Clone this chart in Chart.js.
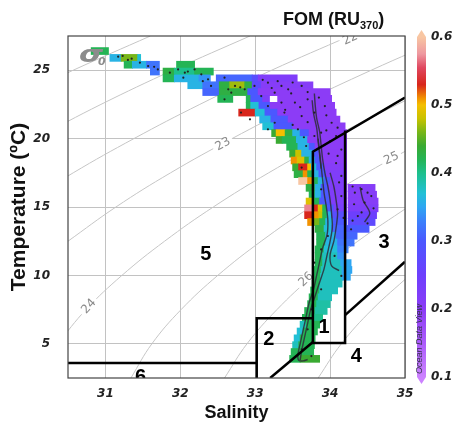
<!DOCTYPE html>
<html>
<head>
<meta charset="utf-8">
<script src="https://cdn.jsdelivr.net/npm/chart.js@4.4.1/dist/chart.umd.min.js"></script>
<style>
  html, body { margin: 0; padding: 0; background: #fff; }
</style>
</head>
<body>
<canvas id="chart" width="456" height="422"></canvas>
<script>
const xTicks = [31, 32, 33, 34, 35];
const yTicks = [5, 10, 15, 20, 25];
const barTicks = [0.1, 0.2, 0.3, 0.4, 0.5, 0.6];

// gridded FOM field, one row per 0.5 degC: [temperature, [[salinity from, to, FOM], ...]]
const fomRows = [
  [26.4, [[30.81, 31.04, 0.42]]],
  [25.9, [[31.06, 31.21, 0.36], [31.21, 31.43, 0.46], [31.43, 31.47, 0.37]]],
  [25.4, [[31.25, 31.36, 0.42], [31.36, 31.55, 0.36], [31.55, 31.72, 0.32], [31.95, 32.19, 0.42]]],
  [24.9, [[31.6, 31.72, 0.32], [31.77, 31.92, 0.43], [31.92, 32.19, 0.4], [32.19, 32.44, 0.42]]],
  [24.4, [[31.77, 31.92, 0.42], [31.92, 32.25, 0.36], [32.25, 32.4, 0.34], [32.48, 32.96, 0.31], [32.96, 33.04, 0.28], [33.04, 33.56, 0.22]]],
  [23.9, [[32.1, 32.3, 0.36], [32.3, 32.52, 0.32], [32.52, 32.66, 0.43], [32.66, 32.86, 0.47], [32.86, 32.96, 0.43], [32.96, 33.08, 0.27], [33.08, 33.77, 0.21]]],
  [23.4, [[32.3, 32.52, 0.31], [32.52, 32.9, 0.43], [32.9, 33.04, 0.3], [33.04, 34.0, 0.2]]],
  [22.9, [[32.5, 32.7, 0.42], [32.88, 32.94, 0.42], [32.94, 33.1, 0.3], [33.1, 33.19, 0.22], [33.3, 34.02, 0.2]]],
  [22.4, [[32.88, 32.94, 0.42], [32.94, 33.05, 0.37], [33.05, 33.2, 0.3], [33.2, 34.06, 0.2]]],
  [21.9, [[32.78, 33.0, 0.53], [33.0, 33.13, 0.37], [33.13, 33.3, 0.3], [33.3, 34.08, 0.2]]],
  [21.4, [[33.06, 33.21, 0.36], [33.21, 33.44, 0.3], [33.44, 34.13, 0.2]]],
  [20.9, [[33.1, 33.25, 0.37], [33.25, 33.5, 0.3], [33.5, 34.2, 0.2]]],
  [20.4, [[33.22, 33.28, 0.44], [33.28, 33.4, 0.5], [33.4, 33.5, 0.43], [33.5, 33.6, 0.36], [33.6, 33.72, 0.3], [33.72, 34.22, 0.2]]],
  [19.9, [[33.28, 33.36, 0.44], [33.36, 33.55, 0.42], [33.55, 33.7, 0.36], [33.7, 34.22, 0.2]]],
  [19.4, [[33.42, 33.57, 0.42], [33.57, 33.72, 0.36], [33.72, 33.8, 0.3], [33.8, 34.22, 0.2]]],
  [18.9, [[33.46, 33.54, 0.44], [33.54, 33.62, 0.48], [33.62, 33.77, 0.36], [33.77, 33.85, 0.3], [33.85, 34.22, 0.2]]],
  [18.4, [[33.48, 33.56, 0.51], [33.56, 33.66, 0.49], [33.66, 33.72, 0.43], [33.72, 33.8, 0.36], [33.8, 33.88, 0.3], [33.88, 34.22, 0.2]]],
  [17.9, [[33.5, 33.58, 0.44], [33.58, 33.7, 0.53], [33.7, 33.75, 0.5], [33.75, 33.82, 0.37], [33.82, 33.92, 0.3], [33.92, 34.22, 0.21]]],
  [17.4, [[33.52, 33.64, 0.43], [33.64, 33.7, 0.51], [33.7, 33.77, 0.42], [33.77, 33.85, 0.36], [33.85, 33.95, 0.3], [33.95, 34.22, 0.22]]],
  [16.9, [[33.58, 33.7, 0.6], [33.7, 33.77, 0.51], [33.77, 33.84, 0.42], [33.84, 33.92, 0.36], [33.92, 34.0, 0.3], [34.0, 34.22, 0.22]]],
  [16.4, [[33.68, 33.8, 0.43], [33.8, 33.88, 0.36], [33.88, 33.98, 0.3], [33.98, 34.22, 0.22], [34.24, 34.6, 0.21]]],
  [15.9, [[33.72, 33.8, 0.42], [33.8, 33.88, 0.36], [33.88, 34.0, 0.3], [34.0, 34.22, 0.22], [34.24, 34.62, 0.21]]],
  [15.4, [[33.68, 33.78, 0.49], [33.78, 33.86, 0.42], [33.86, 34.0, 0.3], [34.0, 34.22, 0.22], [34.24, 34.64, 0.21]]],
  [14.9, [[33.66, 33.77, 0.57], [33.77, 33.84, 0.53], [33.84, 33.9, 0.49], [33.9, 33.96, 0.42], [33.96, 34.05, 0.3], [34.05, 34.22, 0.23], [34.24, 34.64, 0.22]]],
  [14.4, [[33.66, 33.78, 0.53], [33.78, 33.85, 0.51], [33.85, 33.9, 0.48], [33.9, 33.96, 0.42], [33.96, 34.02, 0.36], [34.02, 34.22, 0.28], [34.24, 34.62, 0.25]]],
  [13.9, [[33.7, 33.78, 0.51], [33.78, 33.86, 0.46], [33.86, 33.94, 0.42], [33.94, 34.04, 0.36], [34.04, 34.22, 0.3], [34.24, 34.6, 0.27]]],
  [13.4, [[33.8, 33.92, 0.43], [33.92, 34.02, 0.37], [34.02, 34.22, 0.31], [34.22, 34.52, 0.3]]],
  [12.9, [[33.82, 33.94, 0.42], [33.94, 34.08, 0.36], [34.08, 34.36, 0.31]]],
  [12.4, [[33.82, 33.94, 0.42], [33.94, 34.1, 0.36], [34.1, 34.32, 0.32]]],
  [11.9, [[33.8, 33.92, 0.42], [33.92, 34.1, 0.37], [34.1, 34.24, 0.33]]],
  [11.4, [[33.8, 33.9, 0.42], [33.9, 34.1, 0.38], [34.1, 34.2, 0.34]]],
  [10.9, [[33.8, 33.9, 0.42], [33.9, 34.14, 0.38], [34.14, 34.28, 0.35]]],
  [10.4, [[33.78, 33.88, 0.42], [33.88, 34.16, 0.38], [34.16, 34.29, 0.35]]],
  [9.9, [[33.77, 33.87, 0.42], [33.87, 34.16, 0.38], [34.16, 34.27, 0.35]]],
  [9.4, [[33.76, 33.86, 0.42], [33.86, 34.16, 0.38]]],
  [8.9, [[33.74, 33.86, 0.42], [33.86, 34.1, 0.38]]],
  [8.4, [[33.72, 33.84, 0.42], [33.84, 34.02, 0.38]]],
  [7.9, [[33.7, 33.82, 0.42], [33.82, 34.0, 0.39]]],
  [7.4, [[33.66, 33.8, 0.42], [33.8, 33.96, 0.39]]],
  [6.9, [[33.63, 33.78, 0.42], [33.78, 33.9, 0.4]]],
  [6.4, [[33.6, 33.68, 0.38], [33.68, 33.86, 0.42]]],
  [5.9, [[33.56, 33.64, 0.37], [33.64, 33.83, 0.42]]],
  [5.4, [[33.52, 33.6, 0.37], [33.6, 33.8, 0.42]]],
  [4.9, [[33.5, 33.58, 0.38], [33.58, 33.79, 0.42]]],
  [4.4, [[33.48, 33.78, 0.42]]],
  [3.9, [[33.46, 33.6, 0.42], [33.6, 33.86, 0.44]]]
];

// sample positions [salinity, temperature]
const samples = [
  [30.9, 26.3], [31.17, 25.99], [31.23, 26.04], [31.3, 25.75], [31.35, 25.84], [31.46, 25.55],
  [31.57, 25.3], [31.65, 25.25], [31.7, 25.06], [31.86, 24.82], [31.97, 25.06], [32.06, 24.82],
  [32.04, 24.45], [32.1, 24.9], [32.19, 25.06], [32.28, 24.7], [32.3, 24.2], [32.37, 24.33],
  [32.41, 23.85], [32.59, 24.45], [32.64, 23.6], [32.68, 23.36], [32.73, 23.85], [32.8, 23.75],
  [32.86, 23.6], [32.59, 22.87], [32.81, 21.9], [32.93, 21.41], [32.99, 23.85], [33.08, 23.11],
  [33.1, 24.3], [33.3, 24.2], [33.5, 24.1], [33.22, 23.7], [33.48, 23.3], [33.7, 23.4], [33.85, 23.0],
  [33.17, 24.09], [33.35, 23.85], [33.26, 23.36], [33.44, 23.6], [33.62, 23.85], [33.17, 22.38],
  [33.35, 22.63], [33.53, 22.63], [33.7, 22.87], [33.6, 22.3], [33.4, 22.1], [33.39, 21.9],
  [33.62, 21.65], [33.79, 21.9], [33.95, 21.7], [33.93, 22.38], [34.02, 21.16], [33.7, 21.2],
  [33.5, 21.0], [34.1, 20.8], [33.95, 20.6], [33.26, 21.16], [33.17, 20.68], [33.57, 20.68],
  [33.88, 20.43], [33.79, 20.19], [34.08, 20.19], [33.65, 20.1], [34.0, 19.8], [33.68, 19.46],
  [34.15, 19.2], [33.98, 18.9], [34.1, 18.73], [34.08, 18.2], [33.62, 17.88], [34.15, 17.27],
  [34.12, 16.8], [33.88, 16.29], [34.15, 15.8], [34.18, 14.2], [34.3, 16.5], [34.42, 16.3],
  [34.33, 16.05], [34.5, 16.05], [34.55, 15.8], [34.32, 15.2], [34.46, 15.32], [34.58, 14.9],
  [34.42, 14.6], [34.37, 14.34], [34.3, 14.0], [34.5, 13.8], [34.1, 14.83], [34.28, 13.37],
  [33.97, 12.88], [33.88, 11.9], [34.06, 11.42], [33.79, 10.93], [34.15, 9.96], [33.88, 8.98],
  [33.75, 7.52], [33.7, 6.06], [33.62, 4.6], [33.75, 4.1]
];

// CTD profiles through the core
const profileA = [[33.79, 23.3], [33.8, 22.5], [33.82, 21.5], [33.86, 20.5], [33.88, 19.5], [33.9, 18.5], [33.93, 17.5], [33.97, 16.5], [34.0, 15.5], [34.02, 14.5], [34.03, 13.5], [34.0, 12.5], [33.96, 11.5], [33.92, 10.5], [33.86, 9.5], [33.8, 8.5], [33.74, 7.5], [33.7, 6.5], [33.66, 5.5], [33.62, 4.5], [33.6, 3.8]];
const profileB = [[33.84, 20.0], [33.86, 19.0], [33.88, 18.0], [33.9, 17.0], [33.92, 16.0], [33.95, 15.0], [33.97, 14.0], [33.96, 13.0], [33.9, 12.0], [33.86, 11.0], [33.82, 10.0], [33.78, 9.0], [33.72, 8.0], [33.68, 7.0], [33.64, 6.0], [33.6, 5.0], [33.57, 4.2], [33.58, 3.8], [33.64, 3.75], [33.7, 3.85]];
const profileC = [[34.0, 17.5], [34.05, 16.5], [34.08, 15.5], [34.1, 14.5], [34.08, 13.5], [34.05, 12.5], [34.0, 11.5], [34.02, 10.7], [34.12, 10.35]];
const profileD = [[34.4, 16.46], [34.44, 15.5], [34.53, 14.56], [34.46, 13.9]];
const profileE = [[33.76, 22.8], [33.78, 21.8], [33.82, 20.8], [33.84, 19.8], [33.86, 18.8], [33.88, 17.8]];

// sigma-0 isopycnals [salinity, temperature]
const sigma20 = [[29.6, 22.5], [30.57, 25], [31.6, 27.5]];
const sigma21 = [[30.06, 20], [30.94, 22.5], [31.9, 25], [32.93, 27.5]];
const sigma22 = [[29.84, 15], [30.57, 17.5], [31.38, 20], [32.26, 22.5], [33.22, 25], [34.26, 27.5]];
const sigma23 = [[30.5, 12.5], [31.14, 15], [31.87, 17.5], [32.69, 20], [33.58, 22.5], [34.55, 25], [35.59, 27.5]];
const sigma24 = [[30.36, 5], [30.74, 7.5], [31.22, 10], [31.79, 12.5], [32.44, 15], [33.18, 17.5], [34.0, 20], [34.9, 22.5], [35.84, 25]];
const sigma25 = [[31.34, 2.5], [31.62, 5], [32.01, 7.5], [32.5, 10], [33.08, 12.5], [33.74, 15], [34.49, 17.5], [35.31, 20]];
const sigma26 = [[32.59, 2.5], [32.89, 5], [33.29, 7.5], [33.78, 10], [34.37, 12.5], [35.04, 15]];
const sigma27 = [[33.84, 2.5], [34.15, 5], [34.56, 7.5], [35.06, 10]];
const sigmaLabels = [['22', 34.27, 27.3, -24], ['23', 32.57, 19.58, -29], ['24', 30.78, 7.73, -47], ['25', 34.82, 18.55, -24], ['26', 33.68, 9.7, -43]];

// water mass boundaries
const box1 = [[34.2, 20.6], [34.2, 5.05], [33.77, 5.05], [33.77, 19.05], [35, 23.0]];
const box2 = [[33.02, 2.5], [33.02, 6.86], [33.77, 6.86]];
const box6 = [[30.5, 3.6], [33.02, 3.6]];
const mixLow = [[33.2, 2.5], [33.775, 5.15]];
const mixHigh = [[34.2, 7.1], [35, 11.0]];
const regionLabels = [['1', 33.92, 6.26], ['2', 33.18, 5.39], ['3', 34.72, 12.48], ['4', 34.35, 4.18], ['5', 32.34, 11.6], ['6', 31.47, 2.62]];

// ODV-style palette
const fomStops = [
  [0.1, '#cc82ff'], [0.15, '#ac5cfb'], [0.2, '#8c3cf6'], [0.25, '#6d3ffd'], [0.3, '#4b58ff'],
  [0.33, '#3b82fb'], [0.35, '#2ea6f2'], [0.37, '#22c0d6'], [0.4, '#1dc08c'], [0.42, '#24b455'],
  [0.44, '#3aaa32'], [0.46, '#78b618'], [0.48, '#c8c200'], [0.5, '#f4bf00'], [0.51, '#f29200'],
  [0.53, '#d8261c'], [0.555, '#e04860'], [0.575, '#ee98a0'], [0.6, '#f8c6a2']
];

function hexRgb(h) {
  return [1, 3, 5].map(i => parseInt(h.slice(i, i + 2), 16));
}

function fomColor(v) {
  if (v <= fomStops[0][0]) return fomStops[0][1];
  for (let i = 1; i < fomStops.length; i++) {
    const [v1, c1] = fomStops[i];
    if (v <= v1) {
      const [v0, c0] = fomStops[i - 1];
      const f = (v - v0) / (v1 - v0);
      const a = hexRgb(c0), b = hexRgb(c1);
      return 'rgb(' + a.map((x, k) => Math.round(x + (b[k] - x) * f)).join(',') + ')';
    }
  }
  return fomStops[fomStops.length - 1][1];
}

const toXY = pts => pts.map(([s, t]) => ({ x: s, y: t }));

const fieldData = fomRows.flatMap(([t, segs]) => segs.map(([a, b, v]) => ({ y: t, x: [a, b], v })));

const contour = pts => ({
  type: 'line', data: toXY(pts), borderColor: '#c6c6c6', borderWidth: 1,
  pointRadius: 0, tension: 0.4, fill: false, order: 6
});
const profile = pts => ({
  type: 'line', data: toXY(pts), borderColor: 'rgba(45,45,55,0.85)', borderWidth: 1.4,
  pointRadius: 0, tension: 0.3, fill: false, order: 3
});
const boundary = pts => ({
  type: 'line', data: toXY(pts), borderColor: '#000', borderWidth: 2.5,
  pointRadius: 0, tension: 0, fill: false, order: 1, borderJoinStyle: 'miter'
});

const datasets = [
  ...[sigma20, sigma21, sigma22, sigma23, sigma24, sigma25, sigma26, sigma27].map(contour),
  {
    label: 'FOM', type: 'bar', indexAxis: 'y', data: fieldData,
    backgroundColor: c => fomColor(c.raw ? c.raw.v : 0.3),
    borderWidth: 0, barPercentage: 1, categoryPercentage: 1, grouped: false,
    inflateAmount: 0.4, order: 4
  },
  ...[profileA, profileB, profileC, profileD, profileE].map(profile),
  {
    type: 'scatter', data: toXY(samples), pointRadius: 1.1, backgroundColor: '#222',
    borderWidth: 0, order: 2
  },
  ...[box1, box2, box6, mixLow, mixHigh].map(boundary)
];

const px = (chart, s, t) => [chart.scales.x.getPixelForValue(s), chart.scales.y.getPixelForValue(t)];

const decor = {
  id: 'decor',
  beforeDatasetDraw(chart, args) {
    if (chart.data.datasets[args.index].label !== 'FOM') return;
    const { ctx, chartArea: a } = chart;
    ctx.save();
    ctx.beginPath();
    ctx.rect(a.left, a.top, a.right - a.left, a.bottom - a.top);
    ctx.clip();
    ctx.font = '12px "DejaVu Sans"';
    ctx.textAlign = 'center';
    ctx.textBaseline = 'middle';
    sigmaLabels.forEach(([txt, s, t, ang]) => {
      const [x, y] = px(chart, s, t);
      ctx.save();
      ctx.translate(x, y);
      ctx.rotate(ang * Math.PI / 180);
      const w = ctx.measureText(txt).width + 6;
      ctx.fillStyle = '#fff';
      ctx.fillRect(-w / 2, -5, w, 10);
      ctx.fillStyle = '#8a8a8a';
      ctx.fillText(txt, 0, 0);
      ctx.restore();
    });
    ctx.restore();
  },
  afterDatasetsDraw(chart) {
    const { ctx, chartArea: a } = chart;
    ctx.save();
    ctx.beginPath();
    ctx.rect(a.left, a.top, a.right - a.left, a.bottom - a.top);
    ctx.clip();
    ctx.fillStyle = '#000';
    ctx.font = 'bold 20px "Liberation Sans"';
    ctx.textAlign = 'center';
    ctx.textBaseline = 'middle';
    regionLabels.forEach(([txt, s, t]) => {
      const [x, y] = px(chart, s, t);
      ctx.fillText(txt, x, y + 1);
    });
    ctx.restore();

    // sigma-0 tag
    ctx.save();
    ctx.fillStyle = '#8c8c8c';
    ctx.font = 'italic bold 23px "DejaVu Sans"';
    ctx.textBaseline = 'alphabetic';
    ctx.textAlign = 'left';
    ctx.translate(79, 62);
    ctx.scale(1.35, 1);
    ctx.fillText('σ', 0, 0);
    ctx.restore();
    ctx.save();
    ctx.fillStyle = '#8c8c8c';
    ctx.font = 'italic bold 11px "DejaVu Sans"';
    ctx.fillText('0', 98, 65);
    ctx.restore();

    ctx.save();
    ctx.strokeStyle = '#444';
    ctx.lineWidth = 1.2;
    ctx.strokeRect(a.left, a.top, a.right - a.left, a.bottom - a.top);
    ctx.restore();
  },
  afterDraw(chart) {
    const { ctx } = chart;
    ctx.save();
    ctx.fillStyle = '#111';
    ctx.textBaseline = 'alphabetic';
    ctx.textAlign = 'left';
    let x = 283;
    ctx.font = 'bold 18px "Liberation Sans"';
    ctx.fillText('FOM (RU', x, 25);
    x += ctx.measureText('FOM (RU').width;
    ctx.font = 'bold 11px "Liberation Sans"';
    ctx.fillText('370', x, 29);
    x += ctx.measureText('370').width;
    ctx.font = 'bold 18px "Liberation Sans"';
    ctx.fillText(')', x, 25);
    ctx.restore();

    // colour bar
    const cbX = 417, cbW = 9, cbTop = 37, cbBot = 377;
    const yOf = v => cbTop + (0.6 - v) / 0.5 * (cbBot - cbTop);
    ctx.save();
    const grad = ctx.createLinearGradient(0, cbTop, 0, cbBot);
    fomStops.forEach(([v, c]) => grad.addColorStop((0.6 - v) / 0.5, c));
    ctx.fillStyle = grad;
    ctx.beginPath();
    ctx.moveTo(cbX, cbTop);
    ctx.lineTo(cbX + cbW / 2, cbTop - 7);
    ctx.lineTo(cbX + cbW, cbTop);
    ctx.lineTo(cbX + cbW, cbBot);
    ctx.lineTo(cbX + cbW / 2, cbBot + 7);
    ctx.lineTo(cbX, cbBot);
    ctx.closePath();
    ctx.fill();
    ctx.fillStyle = '#222';
    ctx.font = 'italic bold 12px "DejaVu Sans"';
    ctx.textBaseline = 'middle';
    barTicks.forEach(v => ctx.fillText(v.toFixed(1), 431, yOf(v)));
    ctx.translate(419, 339);
    ctx.rotate(-Math.PI / 2);
    ctx.font = 'italic 9px "Liberation Sans"';
    ctx.fillStyle = '#34344a';
    ctx.textAlign = 'center';
    ctx.fillText('Ocean Data View', 0, 0);
    ctx.restore();
  }
};

const tickFont = { family: 'DejaVu Sans', size: 12, weight: 'bold', style: 'italic' };

new Chart(document.getElementById('chart'), {
  type: 'scatter',
  data: { datasets },
  options: {
    responsive: false,
    animation: false,
    events: [],
    layout: { padding: { top: 36, right: 51, left: 0, bottom: 0 } },
    plugins: { legend: { display: false }, tooltip: { enabled: false }, title: { display: false } },
    scales: {
      x: {
        type: 'linear', min: 30.5, max: 35, offset: false,
        afterBuildTicks: s => { s.ticks = xTicks.map(v => ({ value: v })); },
        afterFit: s => { s.height = 44; },
        grid: { color: '#c2c2c2', drawTicks: false, offset: false },
        border: { display: false },
        ticks: { padding: 9, color: '#222', font: tickFont },
        title: {
          display: true, text: 'Salinity', color: '#111',
          font: { family: 'Liberation Sans', size: 18, weight: 'bold' },
          padding: { top: 0, bottom: -2 }
        }
      },
      y: {
        type: 'linear', min: 2.5, max: 27.5, offset: false,
        afterBuildTicks: s => { s.ticks = yTicks.map(v => ({ value: v })); },
        afterFit: s => { s.width = 68; },
        grid: { color: '#c2c2c2', drawTicks: false, offset: false },
        border: { display: false },
        ticks: { padding: 18, color: '#222', font: tickFont },
        title: {
          display: true, text: 'Temperature (ºC)', color: '#111',
          font: { family: 'Liberation Sans', size: 21, weight: 'bold' },
          padding: { top: 7, bottom: 0 }
        }
      }
    }
  },
  plugins: [decor]
});
</script>
</body>
</html>
